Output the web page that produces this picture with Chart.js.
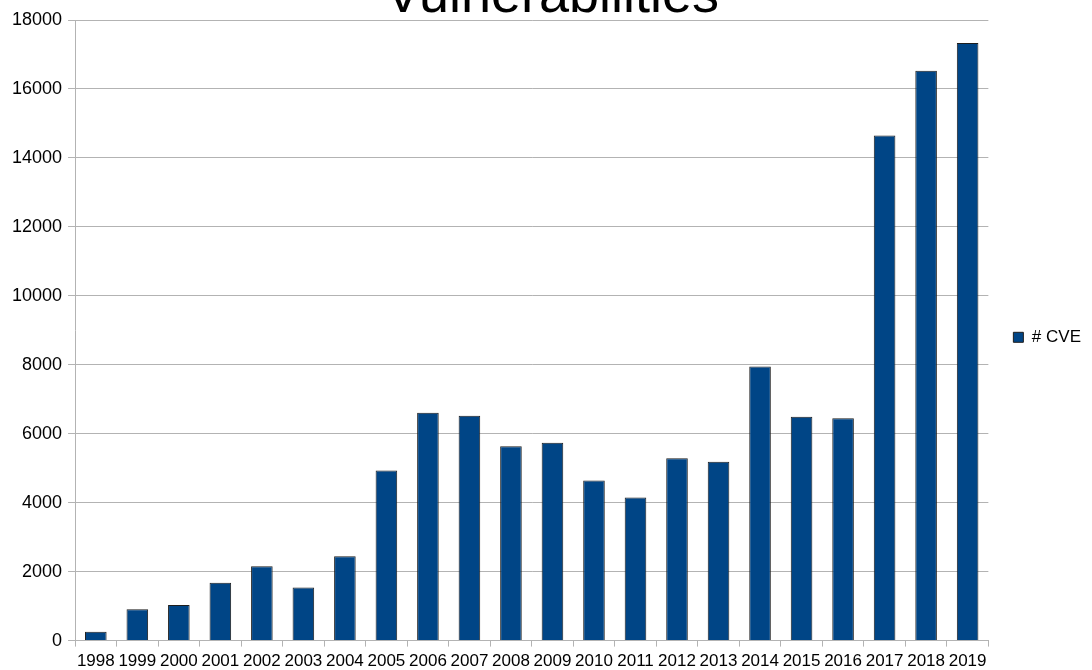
<!DOCTYPE html>
<html>
<head>
<meta charset="utf-8">
<script src="https://cdn.jsdelivr.net/npm/chart.js@4/dist/chart.umd.min.js"></script>
<style>
  html, body { margin: 0; padding: 0; background: #ffffff; }
  #wrap { position: relative; width: 1092px; height: 670px; }
</style>
</head>
<body>
<div id="wrap"><canvas id="chart"></canvas></div>
<script>
// Yearly count of published CVE entries
const years = ['1998', '1999', '2000', '2001', '2002', '2003', '2004', '2005', '2006', '2007', '2008',
               '2009', '2010', '2011', '2012', '2013', '2014', '2015', '2016', '2017', '2018', '2019'];
const cveCounts = [260, 910, 1030, 1680, 2160, 1540, 2450, 4930, 6610, 6520, 5640,
                   5740, 4640, 4150, 5290, 5190, 7950, 6490, 6450, 14650, 16530, 17330];
const seriesName = '# CVE';
const chartTitle = 'Vulnerabilities';
const yTicks = { min: 0, max: 18000, step: 2000 };

const FONT = '"Liberation Sans", Arial, sans-serif';
const GRID = '#b3b3b3';

// Large title drawn above the plot, partly running off the top edge
const titlePlugin = {
  id: 'bigTitle',
  afterDraw(chart) {
    const ctx = chart.ctx;
    ctx.save();
    ctx.font = '54px ' + FONT;
    ctx.fillStyle = '#000000';
    ctx.textAlign = 'center';
    ctx.textBaseline = 'alphabetic';
    ctx.fillText(chartTitle, 552, 12);
    ctx.restore();
  }
};

// Centre the legend on the plot area rather than on the full canvas height
const legendShift = {
  id: 'legendShift',
  afterLayout(chart) {
    const lg = chart.legend;
    if (!lg) return;
    const mid = (chart.chartArea.top + chart.chartArea.bottom) / 2 + 7;
    const half = (lg.bottom - lg.top) / 2;
    lg.top = mid - half;
    lg.bottom = mid + half;
  }
};

new Chart(document.getElementById('chart'), {
  type: 'bar',
  data: {
    labels: years,
    datasets: [{
      label: seriesName,
      data: cveCounts,
      backgroundColor: '#004586',
      borderColor: '#1e1e1e',
      borderWidth: 1,
      barPercentage: 0.52,
      categoryPercentage: 1.0
    }]
  },
  options: {
    responsive: true,
    maintainAspectRatio: false,
    animation: false,
    devicePixelRatio: 1,
    layout: { padding: { top: 20, left: 6, right: 1, bottom: -7 } },
    plugins: {
      title: { display: false },
      tooltip: { enabled: false },
      legend: {
        position: 'right',
        labels: {
          boxWidth: 10,
          boxHeight: 10,
          padding: 25,
          color: '#000000',
          font: { family: FONT, size: 17 }
        }
      }
    },
    scales: {
      x: {
        offset: true,
        grid: {
          offset: true,
          drawOnChartArea: true,
          color: (c) => (c.index === years.length ? GRID : 'rgba(0,0,0,0)'),
          tickColor: GRID,
          tickLength: 6,
          lineWidth: 1
        },
        border: { display: true, color: GRID },
        ticks: {
          color: '#000000',
          font: { family: FONT, size: 17 },
          maxRotation: 0,
          autoSkip: false,
          padding: 5
        }
      },
      y: {
        min: yTicks.min,
        max: yTicks.max,
        grid: { color: GRID, tickColor: GRID, tickLength: 7 },
        border: { display: true, color: GRID },
        ticks: {
          stepSize: yTicks.step,
          color: '#000000',
          font: { family: FONT, size: 18 },
          padding: 6,
          callback: (v) => String(v)
        }
      }
    }
  },
  plugins: [titlePlugin, legendShift]
});
</script>
</body>
</html>
